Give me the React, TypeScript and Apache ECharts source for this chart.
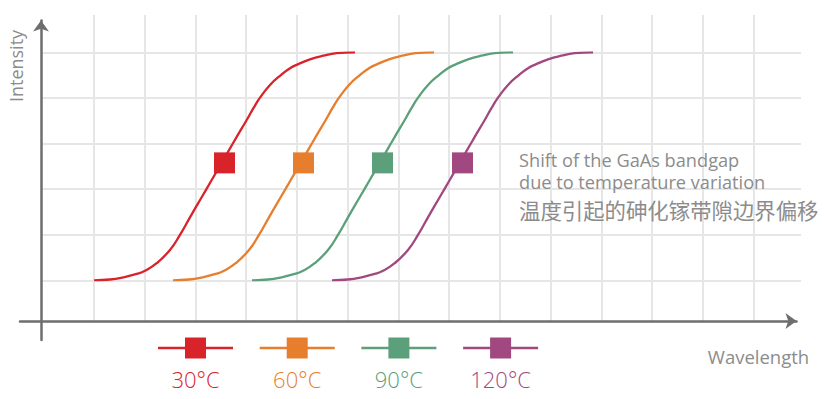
import React, { useEffect, useRef } from 'react';
import * as echarts from 'echarts';

// ---- data ----
const seriesNames = ['30°C', '60°C', '90°C', '120°C'];
const seriesColors = ['#d9232a', '#e77e2d', '#5ba07a', '#a0487f'];
// intensity (0-100) sampled along each absorption edge
const intensity = [0, 0.35, 1.3, 2.8, 4.2, 7.5, 13.3, 19.9, 27.6, 32.2, 40.2, 47.8, 57.3, 62.9, 70.3, 75.4, 80.1, 85.7, 89.7, 93.0, 94.7, 96.9, 98.5, 99.6, 100];
// wavelength (arbitrary grid units) for each curve
const wl30 = [1.001, 1.316, 1.578, 1.842, 2.006, 2.236, 2.498, 2.695, 2.892, 3.011, 3.222, 3.419, 3.667, 3.813, 4.01, 4.14, 4.272, 4.469, 4.666, 4.863, 5.015, 5.257, 5.519, 5.783, 6.144];
const wl60 = [2.558, 2.873, 3.135, 3.399, 3.563, 3.793, 4.055, 4.252, 4.449, 4.568, 4.779, 4.976, 5.224, 5.37, 5.567, 5.697, 5.829, 6.026, 6.223, 6.42, 6.572, 6.814, 7.076, 7.34, 7.701];
const wl90 = [4.115, 4.43, 4.692, 4.956, 5.12, 5.35, 5.612, 5.809, 6.006, 6.125, 6.336, 6.533, 6.781, 6.927, 7.124, 7.254, 7.386, 7.583, 7.78, 7.977, 8.129, 8.371, 8.633, 8.897, 9.258];
const wl120 = [5.691, 6.006, 6.268, 6.532, 6.696, 6.926, 7.188, 7.385, 7.582, 7.701, 7.912, 8.109, 8.357, 8.503, 8.7, 8.83, 8.962, 9.159, 9.356, 9.553, 9.705, 9.947, 10.209, 10.473, 10.834];
const curves = [wl30, wl60, wl90, wl120];
// bandgap markers
const markerWl = [3.572, 5.129, 6.686, 8.262];
const markerIntensity = [51.5, 51.5, 51.5, 51.5];
// texts
const xTitle = 'Wavelength';
const yTitle = 'Intensity';
const noteLines = ['Shift of the GaAs bandgap', 'due to temperature variation', '温度引起的砷化镓带隙边界偏移'];

const FONT = "'Open Sans', 'Noto Sans CJK SC', sans-serif";
const GRID_COLOR = '#e6e6e6';
const AXIS_COLOR = '#6e6e6e';
const TEXT_COLOR = '#8c8c8c';

export default function App() {
  const ref = useRef<HTMLDivElement>(null);
  useEffect(() => {
    if (!ref.current) return;
    const chart = echarts.init(ref.current, undefined, { renderer: 'svg' });

    const lineSeries = curves.map((wl, i) => ({
      type: 'line',
      name: seriesNames[i],
      xAxisIndex: 0,
      yAxisIndex: 0,
      data: wl.map((x, j) => [x, intensity[j]]),
      smooth: 0.5,
      showSymbol: false,
      symbol: 'none',
      silent: true,
      z: 3,
      lineStyle: { color: seriesColors[i], width: 2.3 },
    }));
    const markerSeries = markerWl.map((x, i) => ({
      type: 'scatter',
      name: seriesNames[i],
      xAxisIndex: 0,
      yAxisIndex: 0,
      data: [[x, markerIntensity[i]]],
      symbol: 'rect',
      symbolSize: 21,
      silent: true,
      z: 5,
      itemStyle: { color: seriesColors[i], opacity: 1 },
    }));

    const legendStep = 101.7;
    const legendX0 = 195.5;
    const legendGraphics: any[] = [];
    seriesNames.forEach((name, i) => {
      const cx = legendX0 + i * legendStep;
      legendGraphics.push(
        { type: 'line', z: 10, shape: { x1: cx - 37.5, y1: 348, x2: cx + 37.5, y2: 348 }, style: { stroke: seriesColors[i], lineWidth: 2.5 }, silent: true },
        { type: 'rect', z: 11, shape: { x: cx - 10.5, y: 337.5, width: 21, height: 21 }, style: { fill: seriesColors[i] }, silent: true },
        { type: 'text', z: 10, x: cx, y: 379, style: { text: name, fontFamily: FONT, fontSize: 22, fontWeight: 300, fill: seriesColors[i], align: 'center', verticalAlign: 'middle' }, silent: true },
      );
    });

    const txt = (text: string, x: number, y: number, size: number, align: string, extra: any = {}, styleExtra: any = {}) => ({
      type: 'text', z: 10, x, y, silent: true, ...extra,
      style: { text, fontFamily: FONT, fontSize: size, fontWeight: 400, fill: TEXT_COLOR, align, verticalAlign: 'middle', ...styleExtra },
    });

    const option: any = {
      animation: false,
      grid: [
        { left: 41, right: 25, top: 52.3, bottom: 118.7 },
        { left: 43.2, right: 72.3, top: 15, bottom: 78 },
        { left: 20, right: 29.5, top: 20.5, bottom: 59 },
      ],
      xAxis: [
        { gridIndex: 0, type: 'value', min: -0.0433, max: 14.932, show: false },
        {
          gridIndex: 1, type: 'value', min: 0, max: 14, interval: 1,
          axisLine: { show: false }, axisTick: { show: false }, axisLabel: { show: false },
          splitLine: { show: true, showMinLine: false, lineStyle: { color: GRID_COLOR, width: 2 } },
        },
        {
          gridIndex: 2, type: 'value', min: -21, max: 755.5,
          axisLine: { show: true, onZero: true, symbol: ['none', 'arrow'], symbolSize: [12, 11], lineStyle: { color: AXIS_COLOR, width: 2.5 } },
          axisTick: { show: false }, axisLabel: { show: false }, splitLine: { show: false },
        },
      ],
      yAxis: [
        {
          gridIndex: 0, type: 'value', min: 0, max: 100, interval: 20,
          axisLine: { show: false }, axisTick: { show: false }, axisLabel: { show: false },
          splitLine: { show: true, lineStyle: { color: GRID_COLOR, width: 2 } },
        },
        { gridIndex: 1, type: 'value', min: 0, max: 1, show: false, splitLine: { show: false } },
        {
          gridIndex: 2, type: 'value', min: -19, max: 300.5,
          axisLine: { show: true, onZero: true, symbol: ['none', 'arrow'], symbolSize: [12, 11], lineStyle: { color: AXIS_COLOR, width: 2.5 } },
          axisTick: { show: false }, axisLabel: { show: false }, splitLine: { show: false },
        },
      ],
      series: [...lineSeries, ...markerSeries],
      graphic: [
        txt(yTitle, 16, 66, 18, 'center', { rotation: Math.PI / 2 }),
        txt(xTitle, 758.5, 356, 18.5, 'center'),
        txt(noteLines[0] + '\n' + noteLines[1], 519, 170.85, 18.2, 'left', {}, { lineHeight: 21.7 }),
        txt(noteLines[2], 519, 210, 21.4, 'left'),
        ...legendGraphics,
      ],
    };
    chart.setOption(option);
    return () => chart.dispose();
  }, []);
  return <div ref={ref} style={{ position: 'fixed', left: 0, top: 0, width: 826, height: 399, background: '#fff' }} />;
}
